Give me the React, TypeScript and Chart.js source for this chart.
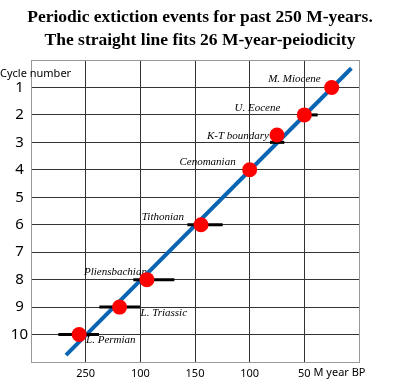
import React, { useEffect, useRef } from "react";
import { Chart, registerables } from "chart.js";

Chart.register(...registerables);

// Event data (age in M years BP, cycle number)
const eventNames = ["M. Miocene", "U. Eocene", "K-T boundary", "Cenomanian", "Tithonian", "Pliensbachian", "L. Triassic", "L. Permian"];
const eventAges = [25, 50, 75, 100, 144.5, 194, 219, 256];
const eventCycles = [1, 2, 2.73, 4, 6, 8, 9, 10];

// Error bars (age range, cycle)
const errLow = [37.8, 68.3, 124.7, 168.9, 200.3, 237.8];
const errHigh = [54, 81.4, 157, 206.4, 237.5, 275];
const errCycles = [2, 3, 6, 8, 9, 10];

// Fitted straight line endpoints (age, cycle)
const fitAges = [268, 7];
const fitCycles = [10.75, 0.3];

// Tick labels
const xTickValues = [250, 200, 150, 100, 50];
const xTickLabels = ["250", "100", "150", "100", "50"];
const yTickValues = [1, 2, 3, 4, 5, 6, 7, 8, 9, 10];
const yTickLabels = ["1", "2", "3", "4", "5", "6", "7", "8", "9", "10"];

const titleLines = ["Periodic extiction events for past 250 M-years.", "The straight line fits 26 M-year-peiodicity"];

// label placement: [dx, dy, align] relative to point pixel
const labelPlacement: [number, number, CanvasTextAlign][] = [
  [-11, -8, "right"],
  [-24, -7, "right"],
  [-8, 1, "right"],
  [-14, -8, "right"],
  [-17, -7.5, "right"],
  [0, -7.5, "right"],
  [21, 6.5, "left"],
  [7, 6, "left"],
];

const SANS = '"Noto Sans", sans-serif';
const SERIF = '"Liberation Serif", "Times New Roman", serif';

export default function App() {
  const ref = useRef<HTMLCanvasElement>(null);
  useEffect(() => {
    document.body.style.margin = "0";
    const canvas = ref.current!;
    const textPlugin = {
      id: "texts",
      beforeDatasetsDraw(chart: any) {
        const ctx = chart.ctx;
        const xs = chart.scales.x;
        const ys = chart.scales.y;
        ctx.save();
        ctx.fillStyle = "#000";
        ctx.font = `italic 11px ${SERIF}`;
        ctx.textBaseline = "middle";
        eventNames.forEach((n, i) => {
          const px = xs.getPixelForValue(eventAges[i]);
          const py = ys.getPixelForValue(eventCycles[i]);
          const [dx, dy, al] = labelPlacement[i];
          ctx.textAlign = al;
          ctx.fillText(n, px + dx, py + dy);
        });
        ctx.restore();
      },
      afterDraw(chart: any) {
        const ctx = chart.ctx;
        const xs = chart.scales.x;
        ctx.save();
        ctx.fillStyle = "#000";
        ctx.font = `bold 17.5px ${SERIF}`;
        ctx.textAlign = "center";
        ctx.textBaseline = "middle";
        ctx.fillText(titleLines[0], 200, 17);
        ctx.fillText(titleLines[1], 200, 40);
        ctx.font = `11px ${SANS}`;
        ctx.textAlign = "left";
        ctx.fillText("Cycle number", 0, 74);
        const p50 = xs.getPixelForValue(50);
        const w = ctx.measureText("50").width;
        ctx.fillText(" M year BP", p50 + w / 2, 373);
        ctx.restore();
      },
    };

    const gridColor = (c: any) => {
      const v = c.tick ? c.tick.value : 0;
      return v === 0 || v === 300 || v === 11 ? "#999" : "#333";
    };

    const chart = new Chart(canvas, {
      type: "scatter",
      data: {
        datasets: [
          {
            data: eventAges.map((a, i) => ({ x: a, y: eventCycles[i] })),
            backgroundColor: "#ff0000",
            borderWidth: 0,
            pointRadius: 7.5,
            showLine: false,
          },
          ...errLow.map((lo, i) => ({
            type: "line" as const,
            data: [
              { x: lo, y: errCycles[i] },
              { x: errHigh[i], y: errCycles[i] },
            ],
            borderColor: "#000",
            borderWidth: 3,
            pointRadius: 0,
          })),
          {
            type: "line" as const,
            data: fitAges.map((a, i) => ({ x: a, y: fitCycles[i] })),
            borderColor: "#0a64b4",
            borderWidth: 4,
            pointRadius: 0,
          },
        ],
      },
      options: {
        responsive: false,
        animation: false,
        events: [],
        layout: { padding: { top: 60, left: 0, right: 41, bottom: 0 } },
        plugins: { legend: { display: false }, tooltip: { enabled: false }, title: { display: false } },
        scales: {
          x: {
            type: "linear",
            min: 0,
            max: 300,
            reverse: true,
            afterFit: (s: any) => {
              s.height = 20;
            },
            border: { color: "#999", width: 1 },
            grid: { color: gridColor, drawTicks: false, lineWidth: 1 },
            ticks: {
              stepSize: 50,
              padding: 5,
              color: "#000",
              font: { family: SANS, size: 11 },
              callback: (v: any) => {
                const i = xTickValues.indexOf(Number(v));
                return i >= 0 ? xTickLabels[i] : "";
              },
            },
          },
          y: {
            type: "linear",
            min: 0,
            max: 11,
            reverse: true,
            afterFit: (s: any) => {
              s.width = 31;
            },
            border: { color: "#999", width: 1 },
            grid: { color: gridColor, drawTicks: false, lineWidth: 1 },
            ticks: {
              stepSize: 1,
              color: "#000",
              crossAlign: "center",
              font: { family: SANS, size: 15 },
              callback: (v: any) => {
                const i = yTickValues.indexOf(Number(v));
                return i >= 0 ? yTickLabels[i] : "";
              },
            },
          },
        },
      },
      plugins: [textPlugin],
    });
    return () => chart.destroy();
  }, []);
  return (
    <div style={{ width: 400, height: 382, background: "#fff" }}>
      <canvas ref={ref} width={400} height={382} />
    </div>
  );
}
